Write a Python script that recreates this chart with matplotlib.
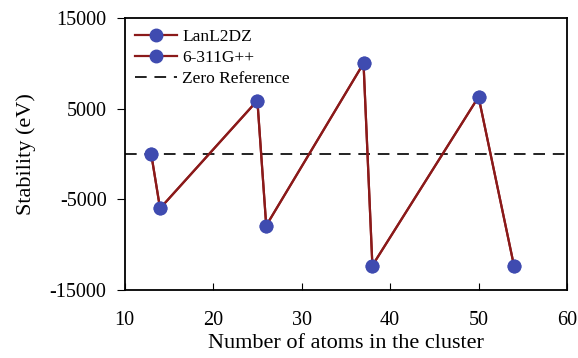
import matplotlib.pyplot as plt

plt.rcParams['font.family'] = ['Liberation Serif', 'DejaVu Serif']
plt.rcParams['axes.unicode_minus'] = False

# Cluster sizes and stabilities
atoms = [13, 14, 25, 26, 37, 38, 50, 54]
stability_lanl2dz = [0, -6000, 5900, -7900, 10000, -12300, 6300, -12300]
stability_6311g = [0, -6000, 5900, -7900, 10000, -12300, 6300, -12300]
x_ticks = [10, 20, 30, 40, 50, 60]
y_ticks = [-15000, -5000, 5000, 15000]

fig = plt.figure(figsize=(5.78, 3.58), dpi=100)
ax = fig.add_axes([0.2157, 0.19, 0.7653, 0.7597])

line_color = '#8b1a1a'
marker_color = '#3f4bb0'

ax.plot(atoms, stability_lanl2dz, color=line_color, linewidth=1.6, marker='o',
        markersize=9, markerfacecolor=marker_color, markeredgecolor=marker_color,
        label='LanL2DZ')
ax.plot(atoms, stability_6311g, color=line_color, linewidth=1.6, marker='o',
        markersize=9, markerfacecolor=marker_color, markeredgecolor=marker_color,
        label='6-311G++')
ax.axhline(0, color='#222222', linestyle=(0, (6, 4)), linewidth=1.4,
           label='Zero Reference', zorder=1)

ax.set_xlim(10, 60)
ax.set_ylim(-15000, 15000)
ax.set_xticks(x_ticks)
ax.set_yticks(y_ticks)
ax.tick_params(axis='x', direction='in', length=5, labelsize=14.5, pad=15)
ax.tick_params(axis='y', direction='out', length=6, labelsize=14.5, pad=7)
for s in ax.spines.values():
    s.set_linewidth(1.3)

ax.set_xlabel('Number of atoms in the cluster', fontsize=16, labelpad=3)
ax.set_ylabel('Stability (eV)', fontsize=16, labelpad=10)

ax.legend(loc='upper left', frameon=False, fontsize=12.5, handlelength=2.4,
          handletextpad=0.3, labelspacing=0.3, borderaxespad=0.2)

plt.savefig('out.png', dpi=100)
